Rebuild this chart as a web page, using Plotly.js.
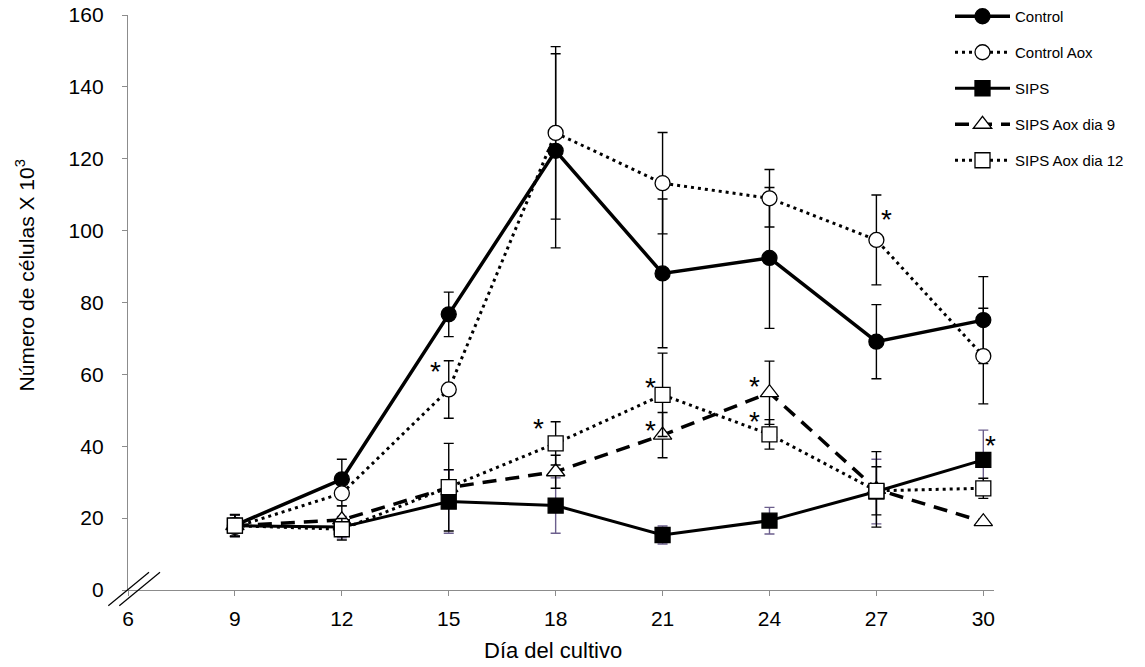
<!DOCTYPE html>
<html>
<head>
<meta charset="utf-8">
<script src="https://cdn.plot.ly/plotly-3.0.1.min.js"></script>
<style>html,body{margin:0;padding:0;background:#fff;}#chart{width:1145px;height:667px;}</style>
</head>
<body>
<div id="chart"></div>
<script>
// ---- data ----
const days = [9, 12, 15, 18, 21, 24, 27, 30];
const xTicks = [6, 9, 12, 15, 18, 21, 24, 27, 30];
const yTicks = [0, 20, 40, 60, 80, 100, 120, 140, 160];

const seriesNames = ["Control", "Control Aox", "SIPS", "SIPS Aox dia 9", "SIPS Aox dia 12"];

const control       = [18.0, 30.8, 76.7, 122.2, 88.1, 92.4, 69.1, 75.1];
const controlErr    = [3.0, 5.6, 6.2, 27.0, 20.7, 19.6, 10.3, 12.1];
const controlAox    = [17.5, 26.9, 55.8, 127.2, 113.2, 109.0, 97.4, 65.1];
const controlAoxErr = [2.5, 3.5, 8.0, 24.0, 14.1, 8.0, 12.5, 13.3];
const sips          = [17.9, 17.5, 24.6, 23.5, 15.3, 19.3, 27.4, 36.2];
const sipsErr       = [3.0, 3.0, 8.8, 7.7, 2.5, 3.7, 9.0, 8.3];
const sipsAox9      = [17.9, 19.5, 28.5, 32.9, 43.1, 54.9, 28.0, 19.0];
const sipsAox9Err   = [3.0, 3.9, 5.0, 4.6, 6.3, 8.8, 10.5, 0];
const sipsAox12     = [17.9, 16.9, 28.6, 40.8, 54.3, 43.3, 27.6, 28.3];
const sipsAox12Err  = [3.0, 3.0, 12.2, 6.0, 11.6, 4.1, 6.7, 2.8];

// significance asterisks: series index, day
const starSeries = [1, 4, 4, 3, 3, 4, 1, 2];
const starDays   = [15, 18, 21, 21, 24, 24, 27, 30];

const yTitle = "Número de células X 10<sup>3</sup>";
const xTitle = "Día del cultivo";

// ---- styles ----
const values = [control, controlAox, sips, sipsAox9, sipsAox12];
const errs = [controlErr, controlAoxErr, sipsErr, sipsAox9Err, sipsAox12Err];
const styles = [
  {dash: "solid", width: 3.5, symbol: "circle", fill: "#000", errColor: "#000"},
  {dash: "3px,4px", width: 3, symbol: "circle", fill: "#fff", errColor: "#000"},
  {dash: "solid", width: 3, symbol: "square", fill: "#000", errColor: "#6c5f8d"},
  {dash: "14px,9px", width: 3.5, symbol: "triangle-up", fill: "#fff", errColor: "#000"},
  {dash: "3px,4px", width: 3, symbol: "square", fill: "#fff", errColor: "#000"}
];
const starOffsets = [[-13, 19], [-17, 16], [-12, 8], [-12, 6], [-15, 7], [-15, 14], [10, 21], [7, 15]];

const traces = values.map((v, i) => ({
  type: "scatter",
  mode: "lines+markers",
  name: seriesNames[i],
  legendgroup: "g" + i,
  x: days,
  y: v,
  cliponaxis: false,
  line: {color: "#000", width: styles[i].width, dash: styles[i].dash},
  marker: {symbol: styles[i].symbol, size: styles[i].symbol === "triangle-up" ? 16 : 15,
           color: styles[i].fill, line: {color: "#000", width: 1.3}},
  error_y: {type: "data", array: errs[i], visible: true, color: styles[i].errColor,
            thickness: 1.4, width: 5}
}));

const annotations = starSeries.map((s, k) => {
  const idx = days.indexOf(starDays[k]);
  return {
    xref: "x", yref: "y", x: starDays[k], y: values[s][idx],
    text: "*", showarrow: false,
    font: {family: "Liberation Sans, Arial, sans-serif", size: 28, color: "#000"},
    xshift: starOffsets[k][0], yshift: starOffsets[k][1] - 1
  };
});
annotations.push({
  xref: "paper", yref: "paper", x: -0.119, y: 0.5 + 27/575, textangle: -90,
  text: yTitle, showarrow: false, xanchor: "center", yanchor: "middle",
  font: {family: "Liberation Sans, Arial, sans-serif", size: 21, color: "#000"}
});
annotations.push({
  xref: "paper", yref: "paper", x: (553 - 128) / 866, y: -60/575,
  text: xTitle, showarrow: false, xanchor: "center", yanchor: "middle",
  font: {family: "Liberation Sans, Arial, sans-serif", size: 22, color: "#000"}
});

const W = 866, H = 575;
const px = p => (p - 128) / W;
const py = p => (590 - p) / H;
const shapes = [
  {type: "line", xref: "paper", yref: "paper", x0: px(108.3), y0: py(605.7), x1: px(149), y1: py(572.3), line: {color: "#000", width: 1.2}},
  {type: "line", xref: "paper", yref: "paper", x0: px(119.3), y0: py(605.7), x1: px(160), y1: py(572.3), line: {color: "#000", width: 1.2}}
];

const axisFont = {family: "Liberation Sans, Arial, sans-serif", size: 21, color: "#000"};
const layout = {
  width: 1145, height: 667,
  margin: {l: 128, r: 151, t: 15, b: 77, pad: 0, autoexpand: false},
  paper_bgcolor: "#fff", plot_bgcolor: "#fff",
  showlegend: true,
  legend: {x: px(950), y: py(0), xanchor: "left", yanchor: "top",
           itemwidth: 55,
           font: {family: "Liberation Sans, Arial, sans-serif", size: 15, color: "#000"},
           traceorder: "grouped", tracegroupgap: 13.5, bgcolor: "rgba(0,0,0,0)", borderwidth: 0},
  xaxis: {range: [6, 30.3], tickvals: xTicks, ticktext: xTicks.map(String),
          showline: true, linecolor: "#8c8c8c", linewidth: 1.2, ticks: "outside", ticklen: 5,
          tickcolor: "#8c8c8c", showgrid: false, zeroline: false, tickfont: axisFont,
          ticklabelstandoff: 5, automargin: false},
  yaxis: {range: [0, 160], tickvals: yTicks, ticktext: yTicks.map(String),
          showline: true, linecolor: "#8c8c8c", linewidth: 1.2, ticks: "outside", ticklen: 5,
          tickcolor: "#8c8c8c", showgrid: false, zeroline: false, tickfont: axisFont,
          ticklabelstandoff: 14, automargin: false},
  annotations: annotations,
  shapes: shapes
};

Plotly.newPlot("chart", traces, layout, {displayModeBar: false, staticPlot: true});
</script>
</body>
</html>
